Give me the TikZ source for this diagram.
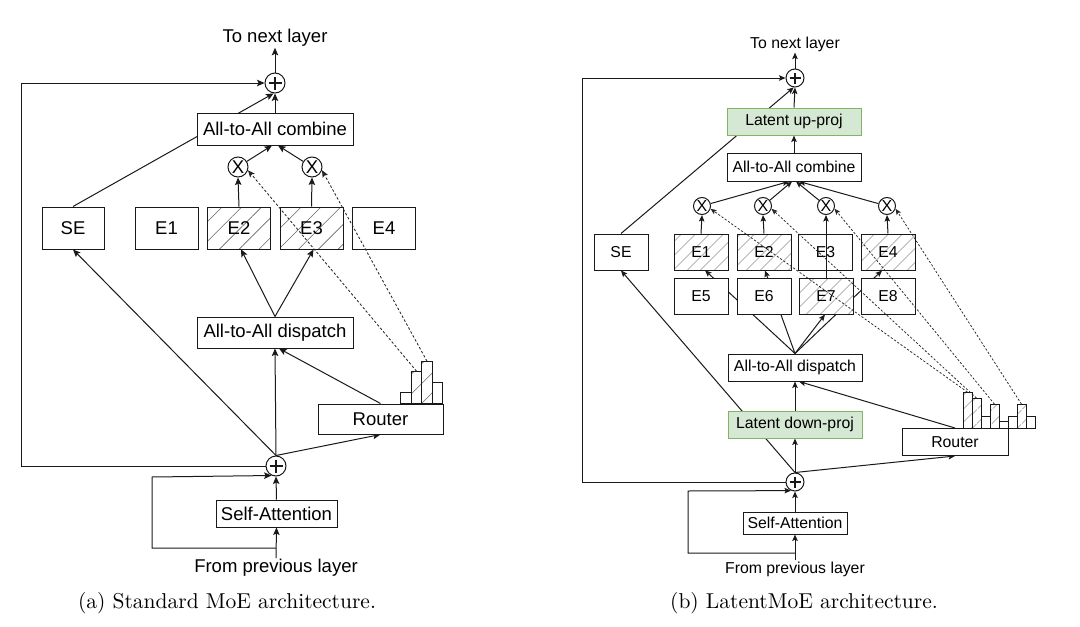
\documentclass[tikz,border=0pt]{standalone}
\usepackage{fontspec}
\newfontfamily\lsans{Liberation Sans}
\newfontfamily\capfont{lmroman10-regular}[Extension=.otf]
\usetikzlibrary{arrows.meta,patterns.meta}
\definecolor{gfill}{HTML}{D5E8D4}
\definecolor{gline}{HTML}{82B366}
\pgfdeclarelayer{background}
\pgfsetlayers{background,main}
\tikzset{
  ln/.style={line width=1pt, draw=black!90},
  arrA/.style={ln, -{Stealth[length=7.5pt,width=6.5pt,inset=1.5pt]}},
  arrB/.style={ln, -{Stealth[length=6.5pt,width=5.5pt,inset=1.3pt]}},
  dashA/.style={line width=0.85pt, draw=black!85, dash pattern=on 2.5pt off 2pt, -{Stealth[length=7pt,width=6pt,inset=1.5pt]}},
  dashB/.style={line width=0.75pt, draw=black!85, dash pattern=on 2.2pt off 1.8pt, -{Stealth[length=6pt,width=5pt,inset=1.3pt]}},
  fA/.style={font=\lsans\fontsize{18.5}{20}\selectfont},
  fB/.style={font=\lsans\fontsize{15.8}{17}\selectfont},
  boxbase/.style={draw=black!90, fill=white, inner sep=0pt, line width=1pt},
  boxA/.style={boxbase, fA},
  boxB/.style={boxbase, fB},
  greenbox/.style={boxB, fill=gfill, draw=gline},
  hatchA/.style={preaction={fill=white}, pattern={Lines[angle=45,distance=14pt,line width=0.6pt]}, pattern color=black!60},
  hatchB/.style={preaction={fill=white}, pattern={Lines[angle=45,distance=10.5pt,line width=0.55pt]}, pattern color=black!60},
  barbox/.style={draw=black!90, fill=white, line width=0.85pt, inner sep=0pt, anchor=south},
  plusbase/.style={circle, draw=black!90, fill=white, inner sep=0pt, line width=1pt},
  plusA/.style={plusbase, minimum size=20pt, path picture={\draw[line width=1.4pt] ([xshift=-6.5pt]path picture bounding box.center) -- ([xshift=6.5pt]path picture bounding box.center) ([yshift=-6.5pt]path picture bounding box.center) -- ([yshift=6.5pt]path picture bounding box.center);}},
  plusB/.style={plusbase, minimum size=18pt, path picture={\draw[line width=1.3pt] ([xshift=-5.5pt]path picture bounding box.center) -- ([xshift=5.5pt]path picture bounding box.center) ([yshift=-5.5pt]path picture bounding box.center) -- ([yshift=5.5pt]path picture bounding box.center);}},
  xA/.style={plusbase, minimum size=20pt, font=\lsans\fontsize{18.5}{18}\selectfont},
  xB/.style={plusbase, minimum size=17pt, font=\lsans\fontsize{16}{16}\selectfont},
  captxt/.style={font=\capfont\fontsize{21.5}{24}\selectfont}
}
\begin{document}
\begin{tikzpicture}[x=1pt,y=-1pt]
\useasboundingbox (0,0) rectangle (1080,627);

% ================= (a) Standard MoE =================
\node[fA, inner sep=1pt] (toA) at (275,38) {To next layer};
\node[plusA] (pA1) at (275,83) {};
\node[boxA, minimum width=156pt, minimum height=32pt] (combA) at (275,129) {All-to-All combine};
\node[xA] (xA1) at (238,167) {X};
\node[xA] (xA2) at (312,167) {X};
\node[boxA, minimum width=62pt, minimum height=42pt] (SEa) at (73,228) {SE};
\node[boxA, minimum width=63pt, minimum height=42pt] (E1a) at (166.5,228) {E1};
\node[boxA, hatchA, minimum width=63pt, minimum height=42pt] (E2a) at (239,228) {E2};
\node[boxA, hatchA, minimum width=63pt, minimum height=42pt] (E3a) at (311.5,228) {E3};
\node[boxA, minimum width=63pt, minimum height=42pt] (E4a) at (384,228) {E4};
\node[boxA, minimum width=156pt, minimum height=31pt] (dispA) at (275,332.5) {All-to-All dispatch};
\node[boxA, minimum width=125pt, minimum height=30pt] (routA) at (380.5,419) {Router};
\node[barbox, minimum width=10.5pt, minimum height=11pt] (bA1) at (406,404) {};
\node[barbox, hatchA, minimum width=10.5pt, minimum height=32pt] (bA2) at (416.5,404) {};
\node[barbox, hatchA, minimum width=10.5pt, minimum height=42pt] (bA3) at (427,404) {};
\node[barbox, minimum width=10.5pt, minimum height=21pt] (bA4) at (437.5,404) {};
\node[plusA] (pA2) at (276,466) {};
\node[boxA, minimum width=121pt, minimum height=27pt] (saA) at (276.5,513.5) {Self-Attention};
\node[fA, inner sep=1pt] (fromA) at (276,568) {From previous layer};
\coordinate (fbA) at (21,83);
\coordinate (rsA) at (276,548);
\coordinate (rcA) at (152,477);
\node[captxt] (capA) at (227,603) {(a) Standard MoE architecture.};

\begin{pgfonlayer}{background}
\draw[arrA] (pA1.north) -- (toA.south);
\draw[arrA] (pA2.west) -| (fbA) -- (pA1.west);
\draw[arrA] (SEa.north) -- (pA1.262);
\draw[arrA] (combA.north) -- (pA1.south);
\draw[arrA] (xA1) -- ([xshift=-3pt]combA.south);
\draw[arrA] (xA2) -- ([xshift=3pt]combA.south);
\draw[arrA] (E2a.north) -- (xA1.south);
\draw[arrA] (E3a.north) -- (xA2.south);
\draw[arrA] (dispA.north) -- ([xshift=2pt]E2a.south);
\draw[arrA] (dispA.north) -- ([xshift=2pt]E3a.south);
\draw[arrA] (pA2.north) -- (SEa.south);
\draw[arrA] (pA2.north) -- (dispA.south);
\draw[arrA] (pA2.north) -- (routA.south);
\draw[arrA] (routA.north) -- ([xshift=4pt]dispA.south);
\draw[arrA] (saA.north) -- (pA2.south);
\draw[arrA] (fromA.north) -- (saA.south);
\draw[arrA] (rsA) -| (rcA) -- (pA2.245);
\end{pgfonlayer}
\draw[dashA] (bA2.north) -- (xA1.-18);
\draw[dashA] (bA3.north) -- (xA2.-18);

% ================= (b) LatentMoE =================
\node[fB, inner sep=1pt] (toB) at (795,44) {To next layer};
\node[plusB] (pB1) at (795,78) {};
\node[greenbox, minimum width=134pt, minimum height=27pt] (upB) at (794,121.5) {Latent up-proj};
\node[boxB, minimum width=134pt, minimum height=28pt] (combB) at (794,167) {All-to-All combine};
\node[xB] (xB1) at (702,206) {X};
\node[xB] (xB2) at (763,206) {X};
\node[xB] (xB3) at (826,206) {X};
\node[xB] (xB4) at (887,206) {X};
\node[boxB, minimum width=54pt, minimum height=36pt] (SEb) at (621,252) {SE};
\node[boxB, hatchB, minimum width=54pt, minimum height=36pt] (E1b) at (701,252) {E1};
\node[boxB, hatchB, minimum width=54pt, minimum height=36pt] (E2b) at (764,252) {E2};
\node[boxB, minimum width=54pt, minimum height=36pt] (E3b) at (825.5,252) {E3};
\node[boxB, hatchB, minimum width=54pt, minimum height=36pt] (E4b) at (888,252) {E4};
\node[boxB, minimum width=54pt, minimum height=36pt] (E5b) at (701,296) {E5};
\node[boxB, minimum width=54pt, minimum height=36pt] (E6b) at (764,296) {E6};
\node[boxB, hatchB, minimum width=54pt, minimum height=36pt] (E7b) at (826,296) {E7};
\node[boxB, minimum width=54pt, minimum height=36pt] (E8b) at (888,296) {E8};
\node[boxB, minimum width=134pt, minimum height=27pt] (dispB) at (795,367.5) {All-to-All dispatch};
\node[greenbox, minimum width=134pt, minimum height=27pt] (downB) at (795,424.5) {Latent down-proj};
\node[boxB, minimum width=106pt, minimum height=27pt] (routB) at (955,442) {Router};
\node[barbox, hatchB, minimum width=9pt, minimum height=35.5pt] (bB1) at (967.5,428.5) {};
\node[barbox, hatchB, minimum width=9pt, minimum height=29.5pt] (bB2) at (976.5,428.5) {};
\node[barbox, minimum width=9pt, minimum height=11.5pt] (bB3) at (985.5,428.5) {};
\node[barbox, hatchB, minimum width=9pt, minimum height=23.5pt] (bB4) at (994.5,428.5) {};
\node[barbox, minimum width=9pt, minimum height=6.5pt] (bB5) at (1003.5,428.5) {};
\node[barbox, minimum width=9pt, minimum height=11.5pt] (bB6) at (1012.5,428.5) {};
\node[barbox, hatchB, minimum width=9pt, minimum height=23.5pt] (bB7) at (1021.5,428.5) {};
\node[barbox, minimum width=9pt, minimum height=11.5pt] (bB8) at (1030.5,428.5) {};
\node[plusB] (pB2) at (795,482) {};
\node[boxB, minimum width=104pt, minimum height=22pt] (saB) at (795,523) {Self-Attention};
\node[fB, inner sep=1pt] (fromB) at (795,569) {From previous layer};
\coordinate (fbB) at (582,78);
\coordinate (rsB) at (795,553);
\coordinate (rcB) at (688,491);
\node[captxt] (capB) at (804,603) {(b) LatentMoE architecture.};

\begin{pgfonlayer}{background}
\draw[arrB] (pB1.north) -- (toB.south);
\draw[arrB] (pB2.west) -| (fbB) -- (pB1.west);
\draw[arrB] (SEb.north) -- (pB1.262);
\draw[arrB] (upB.north) -- (pB1.south);
\draw[arrB] (combB.north) -- (upB.south);
\draw[arrB] (xB1) -- ([xshift=-5pt]combB.south);
\draw[arrB] (xB2) -- ([xshift=-2pt]combB.south);
\draw[arrB] (xB3) -- ([xshift=2pt]combB.south);
\draw[arrB] (xB4) -- ([xshift=5pt]combB.south);
\draw[arrB] (E1b.north) -- (xB1.south);
\draw[arrB] (E2b.north) -- (xB2.south);
\draw[arrB] (E4b.north) -- (xB4.south);
\draw[arrB] (dispB.north) -- ([xshift=4pt]E1b.south);
\draw[arrB] (dispB.north) -- ([xshift=1pt]E2b.south);
\draw[arrB] (dispB.north) -- ([xshift=-1pt]E7b.south);
\draw[arrB] (dispB.north) -- ([xshift=-6pt]E4b.south);
\draw[arrB] (downB.north) -- (dispB.south);
\draw[arrB] (routB.north) -- ([xshift=4pt]dispB.south);
\draw[arrB] (pB2.north) -- (downB.south);
\draw[arrB] (pB2.north) -- (routB.south);
\draw[arrB] (pB2.north) -- (SEb.south);
\draw[arrB] (saB.north) -- (pB2.south);
\draw[arrB] (fromB.north) -- (saB.south);
\draw[arrB] (rsB) -| (rcB) -- (pB2.245);
\end{pgfonlayer}
\draw[arrB] (E7b.north) -- (xB3.south);
\draw[dashB] (bB1.north) -- (xB1.-18);
\draw[dashB] (bB2.north) -- (xB2.-18);
\draw[dashB] (bB4.north) -- (xB3.-18);
\draw[dashB] (bB7.north) -- (xB4.-18);
\end{tikzpicture}
\end{document}
